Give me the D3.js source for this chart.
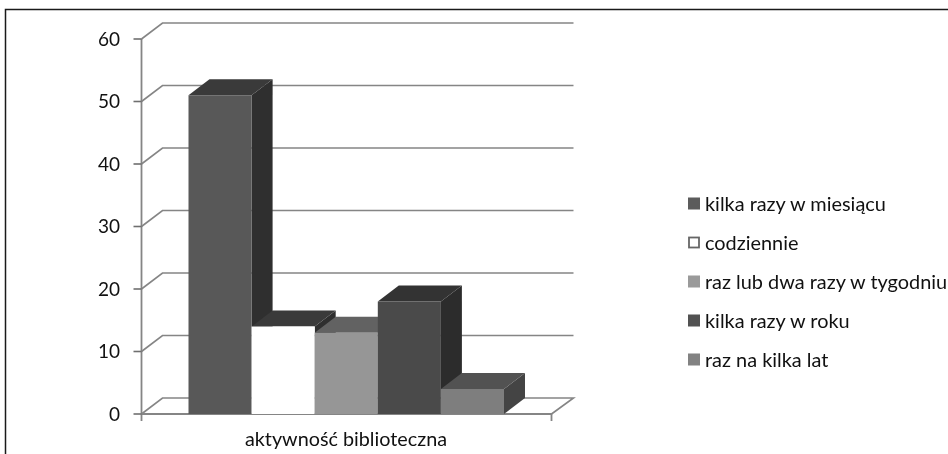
<!DOCTYPE html>
<html><head><meta charset="utf-8">
<script src="https://cdn.jsdelivr.net/npm/d3@7"></script>
<style>html,body{margin:0;padding:0;background:#fff}svg{display:block;filter:blur(0.35px)}text{font-family:Lato,sans-serif;fill:#111}</style>
</head><body><svg id="c" width="948" height="454"></svg>
<script>
const seriesNames = ["kilka razy w miesiącu","codziennie","raz lub dwa razy w tygodniu","kilka razy w roku","raz na kilka lat"];
const seriesValues = [51,14,13,18,4];
const seriesFront = ["#585858","#ffffff","#969696","#4a4a4a","#7e7e7e"];
const seriesTop = ["#3a3a3a","#3a3a3a","#626262","#333333","#525252"];
const seriesSide = ["#2f2f2f","#2f2f2f","#4e4e4e","#2c2c2c","#444444"];
const legendSwatch = ["#5c5c5c","#ffffff","#9a9a9a","#525252","#828282"];
const yTicks = [0,10,20,30,40,50,60];
const category = "aktywność biblioteczna";

const svg = d3.select("#c");
const W=948,H=454;
svg.append("path").attr("d",`M5.5,${H}V9.5H${W}`).attr("fill","none").attr("stroke","#1a1a1a").attr("stroke-width",1.5);

const dx=21, dy=-16;
const y=d3.scaleLinear().domain([0,60]).range([414,39]);
const x=d3.scaleBand().domain(d3.range(seriesNames.length)).range([188.5,504]);
const wall=d3.scaleLinear().domain([0,1]).range([141.5,551.5]);
const grid="#858585";
const g=svg.append("g");
yTicks.forEach(t=>{
  g.append("path").attr("fill","none").attr("stroke",grid).attr("stroke-width",1.6)
   .attr("d",`M${wall(0)},${y(t)}L${wall(0)+dx},${y(t)+dy}H${wall(1)+dx+1}`+(t===0?`L${wall(1)},${y(0)}`:""));
});
g.append("path").attr("fill","none").attr("stroke",grid).attr("stroke-width",1.8)
 .attr("d",`M${wall(0)},${y(60)}V${y(0)+7}M${wall(0)},${y(0)}H${wall(1)}V${y(0)+7}`);
yTicks.forEach(t=>{
  g.append("line").attr("x1",wall(0)-8).attr("x2",wall(0)).attr("y1",y(t)).attr("y2",y(t)).attr("stroke","#6f6f6f").attr("stroke-width",1.6);
  svg.append("text").attr("x",120).attr("y",y(t)).attr("dy","0.36em").attr("text-anchor","end").attr("font-size",19).text(t);
});
const bars=g.selectAll("g.bar").data(seriesValues).join("g").attr("class","bar");
bars.each(function(v,i){
  const s=d3.select(this),x0=x(i),x1=x0+x.bandwidth(),t=y(v),b=y(0);
  s.append("path").attr("fill",seriesSide[i]).attr("d",`M${x1},${t}L${x1+dx},${t+dy}V${b+dy}L${x1},${b}Z`);
  s.append("path").attr("fill",seriesTop[i]).attr("d",`M${x0},${t}L${x0+dx},${t+dy}H${x1+dx}L${x1},${t}Z`);
  s.append("rect").attr("x",x0).attr("y",t).attr("width",x.bandwidth()).attr("height",b-t).attr("fill",seriesFront[i]);
});
svg.append("text").attr("x",346).attr("y",446).attr("text-anchor","middle").attr("font-size",19.8).text(category);
const ly=d3.scalePoint().domain(d3.range(seriesNames.length)).range([203.5,359.5]);
seriesNames.forEach((n,i)=>{
  svg.append("rect").attr("x",i===1?689:688).attr("y",ly(i)-(i===1?5:6)).attr("width",i===1?10:12).attr("height",i===1?10:12)
    .attr("fill",legendSwatch[i]).attr("stroke",i===1?"#666":"none").attr("stroke-width",1.8);
  svg.append("text").attr("x",705).attr("y",ly(i)).attr("dy","0.36em").attr("font-size",19.9).text(n);
});
</script></body></html>
